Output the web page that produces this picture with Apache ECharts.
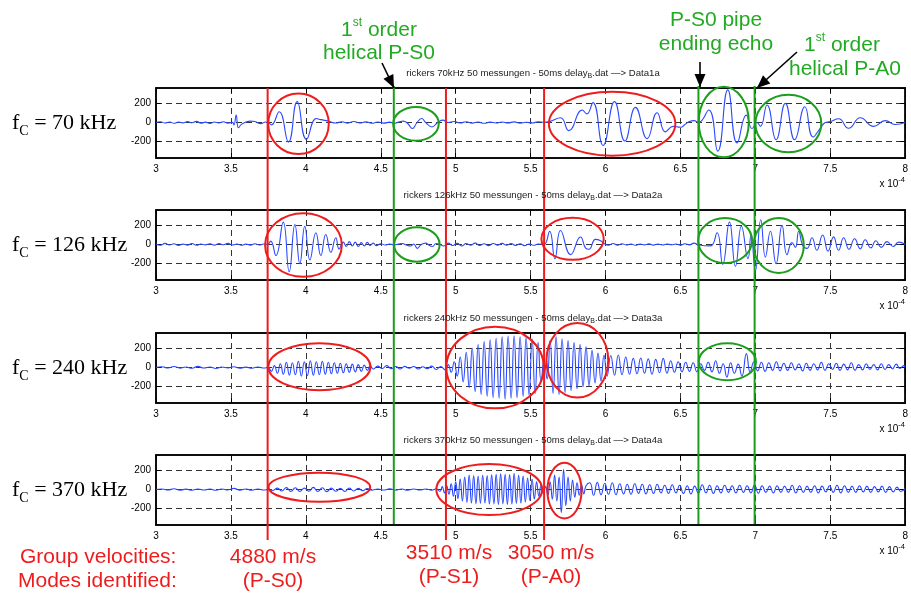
<!DOCTYPE html>
<html><head><meta charset="utf-8">
<script src="https://cdn.jsdelivr.net/npm/echarts@6/dist/echarts.min.js"></script>
<style>html,body{margin:0;padding:0;background:#fff}#c{width:911px;height:594px}</style>
</head><body><div id="c"></div>
<script>
// ---------------- data (time in 1e-4 s, amplitude) ----------------
const freqLabels = ['70 kHz', '126 kHz', '240 kHz', '370 kHz'];
const titleFreqs = ['70kHz', '126kHz', '240kHz', '370kHz'];
const titleData = ['Data1a', 'Data2a', 'Data3a', 'Data4a'];

const sig70 = [[3.00,0],[3.03,8],[3.06,-5],[3.09,6],[3.12,-8],[3.15,5],[3.18,-4],[3.21,10],[3.24,-3],[3.27,12],[3.30,-6],[3.33,4],[3.36,-10],[3.39,5],[3.42,-4],[3.45,8],[3.48,-6],[3.51,2],[3.52,-25],[3.535,78],[3.55,-55],[3.57,-20],[3.60,5],[3.63,15],[3.66,10],[3.70,-12],[3.73,5],[3.75,0],[3.77,-25],[3.822,112],[3.884,-204],[3.942,218],[4.004,-175],[4.07,42],[4.10,30],[4.15,15],[4.20,-5],[4.24,8],[4.28,-6],[4.32,10],[4.36,-5],[4.40,7],[4.44,-8],[4.48,5],[4.52,-6],[4.56,4],[4.59,-8],[4.62,5],[4.65,15],[4.68,-10],[4.711,-63],[4.74,-5],[4.773,42],[4.80,0],[4.842,-46],[4.88,0],[4.915,25],[4.95,0],[4.99,10],[5.03,-5],[5.07,8],[5.11,-6],[5.15,5],[5.19,-8],[5.23,4],[5.27,-5],[5.31,6],[5.35,-4],[5.39,7],[5.43,-6],[5.47,3],[5.51,-5],[5.55,8],[5.59,2],[5.63,12],[5.70,50],[5.755,-85],[5.845,130],[5.875,90],[5.916,207],[5.984,-239],[6.06,218],[6.129,-193],[6.20,158],[6.278,-168],[6.344,102],[6.40,-98],[6.45,-40],[6.50,-50],[6.53,-20],[6.56,10],[6.59,20],[6.62,0],[6.689,130],[6.749,-298],[6.816,340],[6.878,-214],[6.94,77],[6.978,-63],[7.011,0],[7.033,-40],[7.078,183],[7.138,-179],[7.20,200],[7.262,-179],[7.33,165],[7.385,-151],[7.433,-60],[7.467,0],[7.50,10],[7.556,40],[7.622,-60],[7.70,50],[7.789,-40],[7.867,20],[7.933,-20],[8.0,0]];

const sig126 = [[3.00,5],[3.03,-8],[3.06,12],[3.09,-5],[3.12,8],[3.15,-10],[3.18,4],[3.21,-6],[3.24,10],[3.27,-8],[3.30,5],[3.33,-4],[3.36,8],[3.39,-6],[3.42,10],[3.45,-3],[3.48,12],[3.51,-5],[3.54,6],[3.57,-8],[3.60,4],[3.63,-6],[3.66,8],[3.69,-5],[3.72,6],[3.744,0],[3.765,35],[3.80,-115],[3.849,234],[3.889,-285],[3.927,207],[3.96,-200],[3.993,190],[4.027,-160],[4.067,122],[4.10,-115],[4.133,105],[4.167,-81],[4.20,71],[4.222,-47],[4.25,25],[4.27,-20],[4.29,30],[4.31,-15],[4.33,25],[4.35,-20],[4.37,20],[4.39,-15],[4.41,22],[4.43,-10],[4.45,15],[4.47,-12],[4.50,8],[4.53,-5],[4.56,6],[4.59,-4],[4.62,5],[4.644,10],[4.67,-5],[4.70,-15],[4.72,5],[4.744,-40],[4.77,0],[4.80,15],[4.82,-5],[4.844,-20],[4.87,10],[4.89,5],[4.92,-15],[4.95,15],[4.98,-10],[5.01,12],[5.04,-15],[5.07,10],[5.10,-8],[5.13,15],[5.16,-10],[5.19,8],[5.22,-12],[5.25,10],[5.28,-6],[5.31,12],[5.34,-8],[5.37,10],[5.40,-10],[5.43,8],[5.46,-12],[5.49,6],[5.52,-8],[5.55,5],[5.589,0],[5.627,139],[5.662,-149],[5.70,146],[5.767,-105],[5.833,78],[5.867,-37],[5.889,-50],[5.933,54],[5.967,40],[5.99,10],[6.02,-8],[6.05,10],[6.08,-6],[6.11,8],[6.14,-5],[6.17,6],[6.20,-8],[6.23,5],[6.26,-4],[6.29,7],[6.32,-6],[6.35,4],[6.38,-5],[6.41,6],[6.44,-3],[6.47,5],[6.50,-6],[6.53,8],[6.56,-4],[6.59,15],[6.622,-5],[6.70,-14],[6.744,122],[6.782,-207],[6.827,234],[6.867,-227],[6.907,190],[6.951,-149],[6.971,110],[7.0,-275],[7.036,258],[7.067,-132],[7.10,139],[7.138,-200],[7.178,200],[7.211,-105],[7.244,20],[7.267,-30],[7.289,139],[7.316,-10],[7.345,-40],[7.378,70],[7.41,-60],[7.449,100],[7.485,-70],[7.522,80],[7.555,-60],[7.589,70],[7.625,-50],[7.662,60],[7.70,-45],[7.733,50],[7.77,-35],[7.804,40],[7.84,-30],[7.878,30],[7.92,-20],[7.956,25],[8.0,0]];

const sig240 = [[3.00,0],[3.04,8],[3.08,-5],[3.12,10],[3.16,-6],[3.20,5],[3.24,-8],[3.28,12],[3.32,-5],[3.36,6],[3.40,-10],[3.44,5],[3.48,-4],[3.52,8],[3.56,-6],[3.60,4],[3.64,-8],[3.68,6],[3.72,-5],[3.75,0],[3.77,-40],[3.79,20],[3.81,-60],[3.83,40],[3.85,-70],[3.87,55],[3.89,-80],[3.91,50],[3.93,-75],[3.95,65],[3.97,-90],[3.99,60],[4.01,-85],[4.03,70],[4.05,-80],[4.07,60],[4.09,-75],[4.11,65],[4.13,-70],[4.15,55],[4.17,-65],[4.19,50],[4.21,-60],[4.23,45],[4.25,-55],[4.27,40],[4.29,-50],[4.31,35],[4.33,-45],[4.35,30],[4.37,-40],[4.39,25],[4.41,-30],[4.43,20],[4.45,-15],[4.48,15],[4.51,-10],[4.54,20],[4.57,-12],[4.60,10],[4.63,-15],[4.66,12],[4.69,-8],[4.72,10],[4.75,-15],[4.78,8],[4.81,-12],[4.84,15],[4.87,-20],[4.90,10],[4.93,-25],[4.95,30],[4.97,-50],[4.99,60],[5.01,-90],[5.03,110],[5.05,-150],[5.07,160],[5.09,-210],[5.11,200],[5.13,-250],[5.15,240],[5.17,-280],[5.19,270],[5.21,-300],[5.23,290],[5.25,-315],[5.27,305],[5.29,-320],[5.31,320],[5.33,-330],[5.35,325],[5.37,-320],[5.39,330],[5.41,-315],[5.43,320],[5.45,-300],[5.47,310],[5.49,-290],[5.51,300],[5.53,-270],[5.55,260],[5.57,-150],[5.59,90],[5.61,-120],[5.63,280],[5.65,-270],[5.67,320],[5.69,-280],[5.71,300],[5.73,-260],[5.75,280],[5.77,-240],[5.79,260],[5.81,-220],[5.83,240],[5.85,-200],[5.87,215],[5.89,-190],[5.91,180],[5.93,-160],[5.95,150],[5.97,-140],[5.99,130],[6.01,-90],[6.035,125],[6.06,-80],[6.085,130],[6.11,-75],[6.135,110],[6.16,-70],[6.185,95],[6.21,-65],[6.235,100],[6.26,-60],[6.285,90],[6.31,-70],[6.335,85],[6.36,-55],[6.385,95],[6.41,-60],[6.435,70],[6.46,-50],[6.485,60],[6.51,-45],[6.535,55],[6.56,-40],[6.585,50],[6.61,-45],[6.635,40],[6.66,-30],[6.685,55],[6.71,-45],[6.735,70],[6.76,-60],[6.785,40],[6.81,-100],[6.835,50],[6.86,-60],[6.885,35],[6.91,-90],[6.94,145],[6.965,-50],[6.99,60],[7.015,-35],[7.04,55],[7.065,-40],[7.09,50],[7.115,-30],[7.14,60],[7.165,-35],[7.19,45],[7.215,-30],[7.24,50],[7.265,-25],[7.29,40],[7.315,-35],[7.34,45],[7.365,-30],[7.39,40],[7.415,-25],[7.44,55],[7.465,-30],[7.49,40],[7.515,-20],[7.54,45],[7.565,-30],[7.59,35],[7.615,-25],[7.64,50],[7.665,-30],[7.69,30],[7.715,-25],[7.74,40],[7.765,-20],[7.79,30],[7.815,-25],[7.84,40],[7.865,-20],[7.89,30],[7.915,-15],[7.94,35],[7.965,-10],[7.99,20],[8.0,0]];

const sig370 = [[3.00,0],[3.04,6],[3.08,-5],[3.12,8],[3.16,-6],[3.20,4],[3.24,-7],[3.28,6],[3.32,-5],[3.36,5],[3.40,-8],[3.44,6],[3.48,-4],[3.52,12],[3.56,-6],[3.60,5],[3.64,-7],[3.68,6],[3.72,-5],[3.75,0],[3.78,-10],[3.81,15],[3.84,-15],[3.87,20],[3.90,-20],[3.93,18],[3.96,-20],[3.99,15],[4.02,-18],[4.05,22],[4.08,-20],[4.11,18],[4.14,-22],[4.17,15],[4.20,-18],[4.23,12],[4.26,-20],[4.29,15],[4.32,-15],[4.35,12],[4.38,-12],[4.41,10],[4.44,-8],[4.48,6],[4.52,-5],[4.56,7],[4.60,-6],[4.64,5],[4.68,-8],[4.72,6],[4.76,-5],[4.80,6],[4.84,-6],[4.87,8],[4.895,-20],[4.91,30],[4.925,-35],[4.94,40],[4.955,-50],[4.97,60],[4.985,-70],[5.00,80],[5.015,-95],[5.03,110],[5.045,-120],[5.06,130],[5.075,-135],[5.09,150],[5.105,-140],[5.12,145],[5.135,-150],[5.15,140],[5.165,-145],[5.18,150],[5.195,-140],[5.21,145],[5.225,-150],[5.24,155],[5.255,-150],[5.27,160],[5.285,-155],[5.30,165],[5.315,-150],[5.33,160],[5.345,-155],[5.36,155],[5.375,-150],[5.39,170],[5.405,-145],[5.42,150],[5.435,-140],[5.45,140],[5.465,-130],[5.48,120],[5.495,-115],[5.51,110],[5.525,-100],[5.54,80],[5.555,-70],[5.57,50],[5.585,-40],[5.60,30],[5.615,-60],[5.63,80],[5.645,-100],[5.66,150],[5.675,-120],[5.69,130],[5.705,-240],[5.72,209],[5.735,-170],[5.75,130],[5.765,-120],[5.78,100],[5.795,-80],[5.81,70],[5.825,-60],[5.84,50],[5.855,-45],[5.87,40],[5.895,70],[5.92,-60],[5.945,75],[5.97,-55],[5.995,65],[6.02,-50],[6.045,70],[6.07,-55],[6.095,60],[6.12,-45],[6.145,55],[6.17,-50],[6.195,60],[6.22,-40],[6.245,55],[6.27,-45],[6.295,50],[6.32,-40],[6.345,55],[6.37,-35],[6.395,45],[6.42,-40],[6.445,50],[6.47,-35],[6.495,45],[6.52,-40],[6.545,40],[6.57,-45],[6.595,35],[6.62,-40],[6.645,50],[6.67,-35],[6.695,45],[6.72,-40],[6.745,40],[6.77,-35],[6.795,45],[6.82,-30],[6.845,40],[6.87,-35],[6.895,45],[6.92,-30],[6.945,40],[6.97,-35],[6.995,50],[7.02,-40],[7.045,40],[7.07,-30],[7.095,35],[7.12,-35],[7.145,40],[7.17,-30],[7.195,35],[7.22,-30],[7.245,45],[7.27,-35],[7.295,40],[7.32,-30],[7.345,35],[7.37,-30],[7.395,40],[7.42,-35],[7.445,35],[7.47,-25],[7.495,40],[7.52,-30],[7.545,45],[7.57,-35],[7.595,40],[7.62,-30],[7.645,35],[7.67,-30],[7.695,40],[7.72,-25],[7.745,35],[7.77,-30],[7.795,30],[7.82,-25],[7.845,35],[7.87,-30],[7.895,30],[7.92,-25],[7.945,25],[7.97,-20],[8.0,10]];

const signals = [sig70, sig126, sig240, sig370];

// mode arrival markers (time, 1e-4 s)
const redTimes = [3.745, 4.935, 5.59];
const greenTimes = [4.587, 6.62, 6.995];

// circled wave packets: [panel, centre t, centre v, half-width t, half-height v, colour]
const ellipseNotes = [
  [0, 3.951, -13, 0.202, 316, 'r'],
  [0, 4.735, -13, 0.152, 176, 'g'],
  [0, 6.044, -13, 0.422, 333, 'r'],
  [0, 6.789, 5, 0.167, 368, 'g'],
  [0, 7.22, -10, 0.22, 300, 'g'],
  [1, 3.984, -5, 0.256, 332, 'r'],
  [1, 4.741, 0, 0.152, 179, 'g'],
  [1, 5.78, 59, 0.208, 219, 'r'],
  [1, 6.798, 41, 0.18, 235, 'g'],
  [1, 7.156, -10, 0.167, 286, 'g'],
  [2, 4.09, 8, 0.341, 245, 'r'],
  [2, 5.263, 0, 0.325, 426, 'r'],
  [2, 5.812, 76, 0.206, 389, 'r'],
  [2, 6.813, 61, 0.191, 193, 'g'],
  [3, 4.09, 24, 0.339, 152, 'r'],
  [3, 5.224, 0, 0.353, 266, 'r'],
  [3, 5.726, -11, 0.114, 290, 'r']
];

// ---------------- layout / style ----------------
const RED = '#ee1c1c', GREEN = '#1c9e1c', GREEN_TXT = '#22aa22', BLUE = '#2a48ff';
const gridTops = [88, 210, 333, 455];
const GH = 70;
const SANS = '"Liberation Sans", Arial, sans-serif';
const SERIF = '"Liberation Serif", "Times New Roman", serif';

const grids = [], xAxes = [], yAxes = [], series = [];
gridTops.forEach((t, i) => {
  grids.push({left: 156, right: 3, top: t, height: GH, show: true, borderColor: '#000', borderWidth: 1.5});
  xAxes.push({type: 'value', gridIndex: i, min: 3, max: 8, interval: 0.5, position: 'bottom',
    axisLine: {show: true, onZero: false, lineStyle: {color: '#000', width: 1.5}},
    axisTick: {show: true, inside: true, length: 5, lineStyle: {color: '#000'}},
    axisLabel: {color: '#000', fontSize: 10, margin: 6, fontFamily: SANS},
    splitLine: {show: true, lineStyle: {color: '#333', width: 1, type: [6, 4]}}});
  yAxes.push({type: 'value', gridIndex: i, min: -370, max: 360, splitNumber: 3, position: 'left',
    axisLine: {show: true, onZero: false, lineStyle: {color: '#000', width: 1.5}},
    axisTick: {show: true, inside: true, length: 5, lineStyle: {color: '#000'}},
    axisLabel: {color: '#000', fontSize: 10, margin: 5, fontFamily: SANS, showMinLabel: false, showMaxLabel: false},
    splitLine: {show: true, lineStyle: {color: '#333', width: 1, type: [6, 4]}}});
  series.push({type: 'line', xAxisIndex: i, yAxisIndex: i, data: signals[i], showSymbol: false, symbol: 'none',
    smooth: 0.5, lineStyle: {color: BLUE, width: 1.1}, animation: false, z: 3});
});
gridTops.forEach((t, i) => {
  xAxes.push({type: 'value', gridIndex: i, min: 3, max: 8, interval: 0.5, position: 'top',
    axisLine: {show: true, onZero: false, lineStyle: {color: '#000', width: 1.5}},
    axisTick: {show: true, inside: true, length: 5, lineStyle: {color: '#000'}},
    axisLabel: {show: false}, splitLine: {show: false}});
  yAxes.push({type: 'value', gridIndex: i, min: -370, max: 360, splitNumber: 3, position: 'right',
    axisLine: {show: true, onZero: false, lineStyle: {color: '#000', width: 1.5}},
    axisTick: {show: true, inside: true, length: 5, lineStyle: {color: '#000'}},
    axisLabel: {show: false}, splitLine: {show: false}});
});

const chart = echarts.init(document.getElementById('c'), null, {renderer: 'canvas'});
chart.setOption({animation: false, backgroundColor: '#fff', grid: grids, xAxis: xAxes, yAxis: yAxes, series: series});

function px(i, t, v) { return chart.convertToPixel({gridIndex: i}, [t, v]); }

const g = [];
function txt(x, y, text, opts) {
  g.push({type: 'text', x: x, y: y, z: 100, silent: true,
    style: Object.assign({text: text, fill: '#000', align: 'center', verticalAlign: 'middle',
      textAlign: 'center', textVerticalAlign: 'middle'}, opts)});
}

// vertical marker lines
const LINE_TOP = 88;
redTimes.forEach(t => { const x = px(0, t, 0)[0];
  g.push({type: 'line', z: 90, silent: true, shape: {x1: x, y1: LINE_TOP, x2: x, y2: 540}, style: {stroke: RED, lineWidth: 2}}); });
greenTimes.forEach(t => { const x = px(0, t, 0)[0];
  g.push({type: 'line', z: 90, silent: true, shape: {x1: x, y1: LINE_TOP - 2, x2: x, y2: gridTops[3] + GH - 1}, style: {stroke: GREEN, lineWidth: 2}}); });

// ellipses
ellipseNotes.forEach(([i, ct, cv, rt, rv, c]) => {
  const p = px(i, ct, cv), pr = px(i, ct + rt, cv + rv);
  g.push({type: 'ellipse', z: 91, silent: true,
    shape: {cx: p[0], cy: p[1], rx: Math.abs(pr[0] - p[0]), ry: Math.abs(pr[1] - p[1])},
    style: {fill: 'none', stroke: c === 'r' ? RED : GREEN, lineWidth: 2}});
});

// arrows
function arrow(x1, y1, x2, y2) {
  g.push({type: 'line', z: 95, silent: true, shape: {x1: x1, y1: y1, x2: x2, y2: y2}, style: {stroke: '#000', lineWidth: 1.6}});
  const dx = x2 - x1, dy = y2 - y1, L = Math.hypot(dx, dy), ux = dx / L, uy = dy / L;
  const bl = 13, hw = 5.5, bx = x2 - ux * bl, by = y2 - uy * bl;
  g.push({type: 'polygon', z: 95, silent: true, shape: {points: [[x2, y2], [bx - uy * hw, by + ux * hw], [bx + uy * hw, by - ux * hw]]}, style: {fill: '#000'}});
}
arrow(382, 63, 394, 88);
arrow(700, 62, 700, 87);
arrow(797, 52, 757, 88);

// green annotations
const gFont = {fontSize: 21, fontFamily: SANS, fill: GREEN_TXT};
const gRich = {a: {fontSize: 21, fontFamily: SANS, fill: GREEN_TXT, lineHeight: 26},
  s: {fontSize: 12, fontFamily: SANS, fill: GREEN_TXT, verticalAlign: 'top', lineHeight: 14}};
txt(379, 30, '{a|1}{s|st}{a| order}', Object.assign({rich: gRich}, gFont));
txt(379, 53, 'helical P-S0', gFont);
txt(716, 20, 'P-S0 pipe', gFont);
txt(716, 44, 'ending echo', gFont);
txt(842, 45, '{a|1}{s|st}{a| order}', Object.assign({rich: gRich}, gFont));
txt(845, 69, 'helical P-A0', gFont);

// red bottom annotations
const rFont = {fontSize: 21, fontFamily: SANS, fill: RED};
txt(20, 557, 'Group velocities:', Object.assign({align: 'left', textAlign: 'left'}, rFont));
txt(18, 581, 'Modes identified:', Object.assign({align: 'left', textAlign: 'left'}, rFont));
txt(273, 557, '4880 m/s', rFont);
txt(273, 581, '(P-S0)', rFont);
txt(449, 553, '3510 m/s', rFont);
txt(449, 577, '(P-S1)', rFont);
txt(551, 553, '3050 m/s', rFont);
txt(551, 577, '(P-A0)', rFont);

// per-panel labels
gridTops.forEach((t, i) => {
  const y0 = px(i, 3, 0)[1];
  txt(12, y0 + 1, '{f|f}{c|C}{f| = ' + freqLabels[i] + '}', {align: 'left', textAlign: 'left', fontSize: 22, fontFamily: SERIF,
    rich: {f: {fontSize: 22, fontFamily: SERIF, fill: '#000', lineHeight: 30},
           c: {fontSize: 14, fontFamily: SERIF, fill: '#000', verticalAlign: 'bottom', lineHeight: 14}}});
  txt(533, t - 15, '{t|rickers ' + titleFreqs[i] + ' 50 messungen - 50ms delay}{b|B}{t|.dat \u2014> ' + titleData[i] + '}',
    {fontSize: 10, fontFamily: SANS, rich: {
      t: {fontSize: 9.6, fontFamily: SANS, fill: '#222', lineHeight: 14},
      b: {fontSize: 7, fontFamily: SANS, fill: '#222', verticalAlign: 'bottom', lineHeight: 8}}});
  txt(905, t + GH + 26, '{x|x 10}{e|-4}', {align: 'right', textAlign: 'right', fontSize: 10, fontFamily: SANS, rich: {
      x: {fontSize: 10, fontFamily: SANS, fill: '#000', lineHeight: 16},
      e: {fontSize: 7.5, fontFamily: SANS, fill: '#000', verticalAlign: 'top', lineHeight: 8}}});
});

chart.setOption({graphic: {elements: g}});
</script>
</body></html>
